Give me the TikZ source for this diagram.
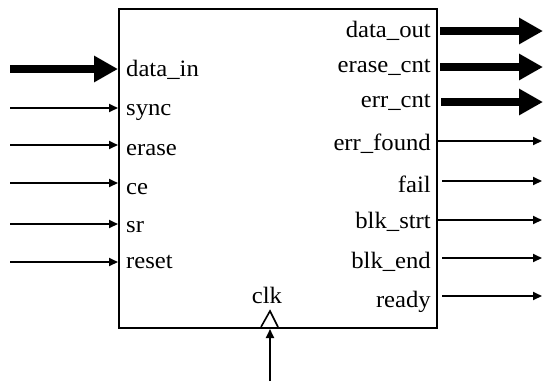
\documentclass[tikz,border=0pt]{standalone}
\usepackage{fontspec}
\setmainfont{Liberation Serif}
\usetikzlibrary{arrows.meta}
\newcommand\wtxt[1]{\scalebox{1.05}[1]{#1}}
\tikzset{
  pinlbl/.style={inner sep=0pt, font=\fontsize{23.5}{25}\selectfont},
  bus/.style={line width=7.5pt, -{Triangle[length=24pt,width=25pt]}},
  wire/.style={line width=2pt, -{Triangle[length=9pt,width=8pt]}},
  blockbox/.style={draw, line width=2pt, rectangle, inner sep=0pt, minimum width=318pt, minimum height=319pt}
}
\begin{document}
\begin{tikzpicture}[x=1pt,y=-1pt]
\useasboundingbox (0,0) rectangle (543,381);
% main block
\node[blockbox, anchor=north west] (blk) at (118,8) {};

% input pin labels
\node[pinlbl, anchor=base west] (l_din)   at (126,76)  {\wtxt{data\_in}};
\node[pinlbl, anchor=base west] (l_sync)  at (126,115) {\wtxt{sync}};
\node[pinlbl, anchor=base west] (l_erase) at (126,155) {\wtxt{erase}};
\node[pinlbl, anchor=base west] (l_ce)    at (126,194) {\wtxt{ce}};
\node[pinlbl, anchor=base west] (l_sr)    at (126,232) {\wtxt{sr}};
\node[pinlbl, anchor=base west] (l_reset) at (126,268) {\wtxt{reset}};

% output pin labels
\node[pinlbl, anchor=base east] (l_dout)  at (431,37)  {\wtxt{data\_out}};
\node[pinlbl, anchor=base east] (l_ecnt)  at (431,72)  {\wtxt{erase\_cnt}};
\node[pinlbl, anchor=base east] (l_errc)  at (431,107) {\wtxt{err\_cnt}};
\node[pinlbl, anchor=base east] (l_errf)  at (431,150) {\wtxt{err\_found}};
\node[pinlbl, anchor=base east] (l_fail)  at (431,192) {\wtxt{fail}};
\node[pinlbl, anchor=base east] (l_bs)    at (431,228) {\wtxt{blk\_strt}};
\node[pinlbl, anchor=base east] (l_be)    at (431,268) {\wtxt{blk\_end}};
\node[pinlbl, anchor=base east] (l_rdy)   at (431,307) {\wtxt{ready}};

% clock label
\node[pinlbl, anchor=base] (l_clk) at (267,303) {\wtxt{clk}};

% input connectors
\coordinate (s_din)   at (10,69);
\coordinate (s_sync)  at (10,108);
\coordinate (s_erase) at (10,145);
\coordinate (s_ce)    at (10,183);
\coordinate (s_sr)    at (10,224);
\coordinate (s_reset) at (10,262);
\draw[bus]  (s_din)   -- (s_din -| blk.west);
\draw[wire] (s_sync)  -- (s_sync -| blk.west);
\draw[wire] (s_erase) -- (s_erase -| blk.west);
\draw[wire] (s_ce)    -- (s_ce -| blk.west);
\draw[wire] (s_sr)    -- (s_sr -| blk.west);
\draw[wire] (s_reset) -- (s_reset -| blk.west);

% output connectors
\coordinate (t_dout) at (543,31);
\coordinate (t_ecnt) at (543,67);
\coordinate (t_errc) at (543,102);
\coordinate (t_errf) at (542,141);
\coordinate (t_fail) at (542,181);
\coordinate (t_bs)   at (542,220);
\coordinate (t_be)   at (542,258);
\coordinate (t_rdy)  at (542,296);
\draw[bus]  ([xshift=2pt]t_dout -| blk.east) -- (t_dout);
\draw[bus]  ([xshift=2pt]t_ecnt -| blk.east) -- (t_ecnt);
\draw[bus]  ([xshift=3pt]t_errc -| blk.east) -- (t_errc);
\draw[wire] (t_errf -| blk.east) -- (t_errf);
\draw[wire] ([xshift=4pt]t_fail -| blk.east) -- (t_fail);
\draw[wire] (t_bs -| blk.east) -- (t_bs);
\draw[wire] ([xshift=4pt]t_be -| blk.east) -- (t_be);
\draw[wire] ([xshift=4pt]t_rdy -| blk.east) -- (t_rdy);

% clock input with edge marker
\coordinate (clkpin) at (270,327);
\coordinate (s_clk) at (270,381);
\draw[line width=1.6pt, line join=miter] ([xshift=-9pt]clkpin) -- ([yshift=16pt]clkpin) -- ([xshift=8pt]clkpin);
\draw[wire] (s_clk) -- ([yshift=-2pt]clkpin);
\end{tikzpicture}
\end{document}
